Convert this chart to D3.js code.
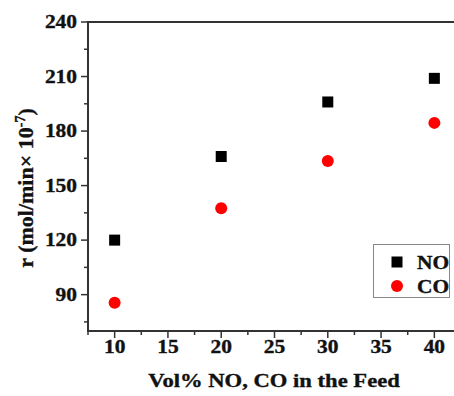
<!DOCTYPE html>
<html>
<head>
<meta charset="utf-8">
<script src="https://cdn.jsdelivr.net/npm/d3@7"></script>
<style>
  body{margin:0;background:#fff;}
  text{font-family:"Liberation Serif","Times New Roman",serif;font-weight:bold;fill:#111;stroke:#111;stroke-width:0.35px;}
</style>
</head>
<body>
<svg id="chart"></svg>
<script>
let width = 454, height = 396;
const margin = {left:88, top:22, bottom:65};

// data
const feed = [10, 20, 30, 40];
const rateNO = [120, 166, 196, 209];
const rateCO = [85.5, 137.5, 163.5, 184.5];
const xTicks = [10, 15, 20, 25, 30, 35, 40];
const yTicks = [90, 120, 150, 180, 210, 240];

const stretch = 1.19; // text looks horizontally stretched in the original

const svg = d3.select('#chart')
  .attr('width', width).attr('height', height);

const x = d3.scaleLinear().domain([7.5, 42.5]).range([margin.left, margin.left + 373]);
const y = d3.scaleLinear().domain([70, 240]).range([height - margin.bottom, margin.top]);

function label(g, tx, ty, txt, size, anchor){
  return g.append('text')
    .attr('transform', `translate(${tx},${ty}) scale(${stretch},1)`)
    .attr('text-anchor', anchor || 'middle')
    .style('font-size', size + 'px')
    .text(txt);
}

const axisColor = '#333';
const y0 = y.range()[0];

// frame
svg.append('rect')
  .attr('x', x.range()[0]).attr('y', y.range()[1])
  .attr('width', x.range()[1] - x.range()[0]).attr('height', y0 - y.range()[1])
  .attr('fill', 'none').attr('stroke', axisColor).attr('stroke-width', 2);

// x ticks
const gx = svg.append('g');
d3.range(7.5, 42.6, 2.5).forEach(v=>{
  const major = xTicks.includes(v);
  gx.append('line').attr('x1', x(v)).attr('x2', x(v))
    .attr('y1', y0).attr('y2', y0 + (major ? 7 : 4))
    .attr('stroke', axisColor).attr('stroke-width', 1.5);
});
xTicks.forEach(v=> label(gx, x(v), y0 + 22, v, 18));

// y ticks
const gy = svg.append('g');
d3.range(75, 241, 15).forEach(v=>{
  const major = yTicks.includes(v);
  gy.append('line').attr('x1', x.range()[0]).attr('x2', x.range()[0] - (major ? 7 : 4))
    .attr('y1', y(v)).attr('y2', y(v))
    .attr('stroke', axisColor).attr('stroke-width', 1.5);
});
yTicks.forEach(v=> label(gy, 77, y(v) + 6, v, 18, 'end'));

// axis titles
label(svg, 274, 387, 'Vol% NO, CO in the Feed', 19);
const yt = svg.append('text')
  .attr('transform', 'translate(33,188) rotate(-90)')
  .attr('text-anchor', 'middle')
  .style('font-size', '22px');
yt.append('tspan').text('r  (mol/min\u00d7 10');
yt.append('tspan').attr('dy', -8).style('font-size', '14px').text('-7');
yt.append('tspan').attr('dy', 8).text(')');

// points
svg.selectAll('.no').data(feed).join('rect')
  .attr('class', 'no')
  .attr('x', (d)=>x(d) - 5.5).attr('y', (d,i)=>y(rateNO[i]) - 5.5)
  .attr('width', 11).attr('height', 11).attr('fill', '#000');
svg.selectAll('.co').data(feed).join('circle')
  .attr('class', 'co')
  .attr('cx', d=>x(d)).attr('cy', (d,i)=>y(rateCO[i]))
  .attr('r', 6).attr('fill', '#ff0000');

// legend
const lg = svg.append('g');
lg.append('rect').attr('x', 373.5).attr('y', 244.5).attr('width', 76).attr('height', 53)
  .attr('fill', '#fff').attr('stroke', '#888').attr('stroke-width', 1);
lg.append('rect').attr('x', 391.5).attr('y', 256.5).attr('width', 11).attr('height', 11).attr('fill', '#000');
lg.append('circle').attr('cx', 397).attr('cy', 286).attr('r', 6).attr('fill', '#ff0000');
label(lg, 417, 269, 'NO', 18, 'start');
label(lg, 417, 293, 'CO', 18, 'start');
</script>
</body>
</html>
